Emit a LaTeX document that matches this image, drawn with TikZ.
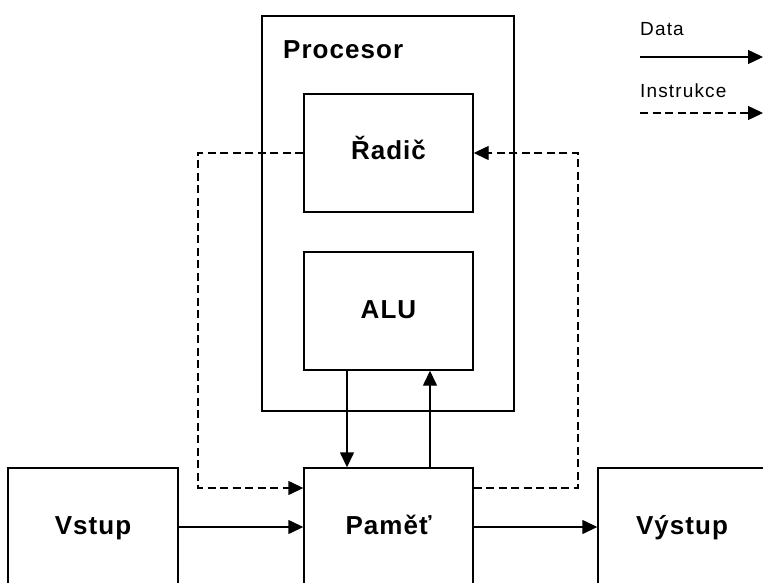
\documentclass[tikz,border=0pt]{standalone}
\usepackage{fontspec}
\setmainfont{Liberation Sans}
\newfontfamily\lblfont[LetterSpace=4]{Liberation Sans Bold}
\newfontfamily\legfont[LetterSpace=6]{Liberation Sans}
\usetikzlibrary{arrows.meta}
\begin{document}
\begin{tikzpicture}[x=1pt,y=1pt,
  blk/.style={draw=black, line width=1.4pt, fill=none, minimum width=169pt, minimum height=118pt, inner sep=0pt,
    text height=14pt, text depth=0pt, font=\lblfont\fontsize{26}{30}\selectfont},
  procbox/.style={draw=black, line width=1.4pt, minimum width=252pt, minimum height=395pt, inner sep=0pt},
  datal/.style={line width=1.4pt, -{Triangle[length=15pt,width=14pt]}},
  instrl/.style={line width=1.4pt, dash pattern=on 8pt off 4.5pt, -{Triangle[length=15pt,width=14pt]}},
  ttl/.style={inner sep=0pt, font=\lblfont\fontsize{26}{30}\selectfont},
  leg/.style={inner sep=0pt, font=\legfont\fontsize{19}{22}\selectfont}
]
\useasboundingbox (0,0) rectangle (763,-583);
\fill[white] (0,0) rectangle (763,-583);
\clip (0,0) rectangle (763,-583);

% processor frame
\node[procbox] (proc) at (388,-213.5) {};
\node[ttl, anchor=base west] (proctxt) at (283,-59) {Procesor};

% blocks
\node[blk] (radic) at (388.5,-153) {Řadič};
\node[blk] (alu) at (388.5,-311) {ALU};
\node[blk] (pamet) at (388.5,-527) {Paměť};
\node[blk, minimum width=170pt] (vstup) at (93,-527) {Vstup};
\node[blk, minimum width=168pt] (vystup) at (682,-527) {Výstup};

% instruction (dashed) connectors
\coordinate (dl) at (198,-488);
\coordinate (dr) at (578,-488);
\draw[instrl] (radic.west) -| (dl) -- (pamet.west |- dl);
\draw[instrl] (pamet.east |- dr) -- (dr) |- (radic.east);

% data connectors
\draw[datal] ([xshift=-41.5pt]alu.south) -- ([xshift=-41.5pt]pamet.north);
\draw[datal] ([xshift=41.5pt]pamet.north) -- ([xshift=41.5pt]alu.south);
\draw[datal] (vstup.east) -- (pamet.west);
\draw[datal] (pamet.east) -- (vystup.west);

% legend
\node[leg, anchor=base west] (legdata) at (640,-36) {Data};
\coordinate (d1) at (640,-57);
\coordinate (d2) at (763,-57);
\draw[datal] (d1) -- (d2);
\node[leg, anchor=base west] (leginstr) at (640,-98) {Instrukce};
\coordinate (i1) at (640,-113);
\coordinate (i2) at (763,-113);
\draw[instrl] (i1) -- (i2);
\end{tikzpicture}
\end{document}
